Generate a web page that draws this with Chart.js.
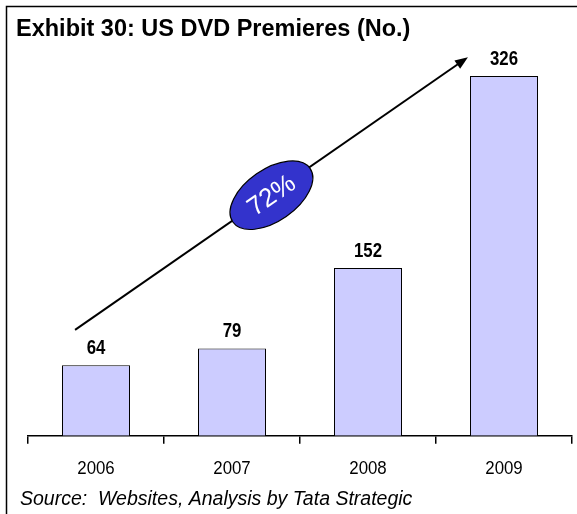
<!DOCTYPE html>
<html><head><meta charset="utf-8">
<script src="https://cdn.jsdelivr.net/npm/chart.js@4.4.1/dist/chart.umd.min.js"></script>
<style>html,body{margin:0;padding:0;background:#fff}#wrap{width:577px;height:514px;position:relative}</style>
</head><body><div id="wrap"><canvas id="c" width="577" height="514"></canvas></div>
<script>
const categories = ['2006', '2007', '2008', '2009'];
const premieres = [64, 79, 152, 326];
const growthLabel = '72%';
const titleText = 'Exhibit 30: US DVD Premieres (No.)';
const sourceText = 'Source:  Websites, Analysis by Tata Strategic';
// arrow anchor points in data space [category index, value]
const arrowFrom = [-0.154, 96];
const arrowTo = [2.735, 343];
const ovalAt = [1.29, 218];

const FONT = '"Liberation Sans", Arial, sans-serif';

// condense tick labels horizontally (narrow face look)
function condenseScaleLabels(scale, k) {
  if (scale._condensed) return;
  scale._condensed = true;
  const orig = scale.drawLabels.bind(scale);
  scale.drawLabels = function (area) {
    const ctx = this.ctx;
    const f = ctx.fillText;
    ctx.fillText = function (t, x, y) {
      ctx.save();
      ctx.translate(x, y);
      ctx.scale(k, 1);
      f.call(ctx, t, 0, 0);
      ctx.restore();
    };
    try { orig(area); } finally { ctx.fillText = f; }
  };
}

const deco = {
  id: 'deco',
  beforeDraw(chart) {
    condenseScaleLabels(chart.scales.x, 0.91);
    const ctx = chart.ctx;
    ctx.save();
    ctx.fillStyle = '#fff';
    ctx.fillRect(0, 0, chart.width, chart.height);
    ctx.strokeStyle = '#000';
    ctx.lineWidth = 1.5;
    ctx.beginPath();
    ctx.moveTo(6.5, 514);
    ctx.lineTo(6.5, 6.5);
    ctx.lineTo(577, 6.5);
    ctx.stroke();
    ctx.fillStyle = '#000';
    ctx.font = 'bold 23.5px ' + FONT;
    ctx.textBaseline = 'middle';
    ctx.fillText(titleText, 16, 30);
    ctx.font = 'italic 19.5px ' + FONT;
    ctx.fillText(sourceText, 20, 500);
    ctx.restore();
  },
  afterDatasetsDraw(chart) {
    const ctx = chart.ctx;
    const xs = chart.scales.x, ys = chart.scales.y;
    ctx.save();
    // value labels
    const meta = chart.getDatasetMeta(0);
    ctx.fillStyle = '#000';
    ctx.font = 'bold 21px ' + FONT;
    ctx.textAlign = 'center';
    ctx.textBaseline = 'middle';
    meta.data.forEach((bar, i) => {
      ctx.save();
      ctx.translate(bar.x, bar.y - 17);
      ctx.scale(0.8, 1);
      ctx.fillText(String(premieres[i]), 0, 0);
      ctx.restore();
    });
    // arrow
    const x1 = xs.getPixelForValue(arrowFrom[0]), y1 = ys.getPixelForValue(arrowFrom[1]);
    const x2 = xs.getPixelForValue(arrowTo[0]), y2 = ys.getPixelForValue(arrowTo[1]);
    const ang = Math.atan2(y2 - y1, x2 - x1);
    ctx.strokeStyle = '#000';
    ctx.lineWidth = 2;
    ctx.beginPath();
    ctx.moveTo(x1, y1);
    ctx.lineTo(x2 - 8 * Math.cos(ang), y2 - 8 * Math.sin(ang));
    ctx.stroke();
    ctx.beginPath();
    ctx.moveTo(x2, y2);
    ctx.lineTo(x2 - 13 * Math.cos(ang) + 5 * Math.sin(ang), y2 - 13 * Math.sin(ang) - 5 * Math.cos(ang));
    ctx.lineTo(x2 - 13 * Math.cos(ang) - 5 * Math.sin(ang), y2 - 13 * Math.sin(ang) + 5 * Math.cos(ang));
    ctx.closePath();
    ctx.fillStyle = '#000';
    ctx.fill();
    // oval
    const cx = xs.getPixelForValue(ovalAt[0]), cy = ys.getPixelForValue(ovalAt[1]);
    ctx.translate(cx, cy);
    ctx.rotate(ang);
    ctx.beginPath();
    ctx.ellipse(0, 0, 47, 26, 0, 0, Math.PI * 2);
    ctx.fillStyle = '#3333CC';
    ctx.fill();
    ctx.lineWidth = 1.2;
    ctx.strokeStyle = '#000';
    ctx.stroke();
    ctx.fillStyle = '#fff';
    ctx.font = '26px ' + FONT;
    ctx.fillText(growthLabel, 0, 1);
    ctx.restore();
  }
};

new Chart(document.getElementById('c'), {
  type: 'bar',
  data: {
    labels: categories,
    datasets: [{
      data: premieres,
      backgroundColor: '#CCCCFF',
      borderColor: '#000',
      borderWidth: 1,
      categoryPercentage: 1,
      barPercentage: 0.5
    }]
  },
  options: {
    responsive: false,
    animation: false,
    events: [],
    layout: { padding: { left: 28, right: 5, top: 40, bottom: 20 } },
    plugins: { legend: { display: false }, tooltip: { enabled: false } },
    scales: {
      x: {
        offset: true,
        grid: { display: true, offset: true, drawOnChartArea: false, drawTicks: true, tickLength: 8, color: '#000', lineWidth: 1.5 },
        border: { display: true, color: '#000', width: 1.5 },
        ticks: { color: '#000', font: { family: FONT, size: 18.5 }, padding: 14 }
      },
      y: {
        display: false,
        min: 0,
        max: 358.6
      }
    }
  },
  plugins: [deco]
});
</script></body></html>
